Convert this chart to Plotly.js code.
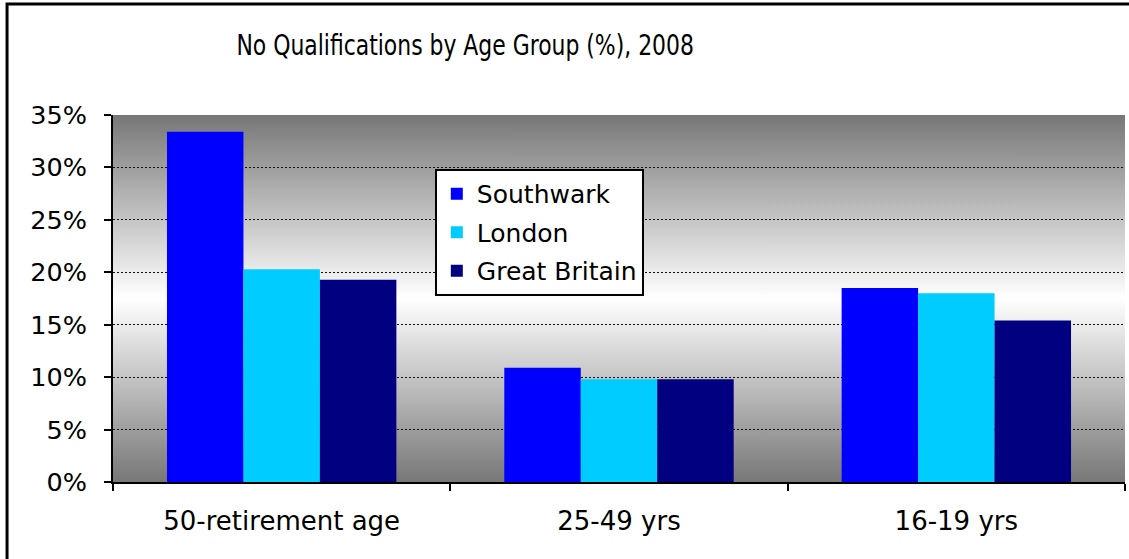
<!DOCTYPE html>
<html>
<head>
<meta charset="utf-8">
<script src="https://cdn.plot.ly/plotly-3.0.1.min.js"></script>
<style>
html,body{margin:0;padding:0;background:#fff;}
#chart{width:1129px;height:559px;}
#chart .gtitle{transform-box:fill-box;transform-origin:center;transform:scaleX(0.855);}
</style>
</head>
<body>
<div id="chart"></div>
<script>
const categories = ["50-retirement age", "25-49 yrs", "16-19 yrs"];
const seriesNames = ["Southwark", "London", "Great Britain"];
const southwark = [33.4, 10.9, 18.5];
const london = [20.3, 9.8, 18.0];
const greatBritain = [19.3, 9.8, 15.4];
const seriesColors = ["#0000FF", "#00CCFF", "#000080"];
const yTicks = [0, 5, 10, 15, 20, 25, 30, 35];

const seriesValues = [southwark, london, greatBritain];
const traces = seriesValues.map((vals, i) => ({
  type: "bar",
  name: seriesNames[i],
  x: categories,
  y: vals,
  marker: {color: seriesColors[i], line: {width: 0}},
  legendgroup: "g" + i,
  hoverinfo: "x+y+name"
}));

const gradSvg = '<svg xmlns="http://www.w3.org/2000/svg" width="10" height="100" preserveAspectRatio="none">' +
  '<defs><linearGradient id="g" x1="0" y1="0" x2="0" y2="1">' +
  '<stop offset="0" stop-color="#777777"/><stop offset="0.5" stop-color="#ffffff"/><stop offset="1" stop-color="#777777"/>' +
  '</linearGradient></defs><rect width="10" height="100" fill="url(#g)"/></svg>';
const gradUrl = "data:image/svg+xml;base64," + btoa(gradSvg);

const font = "DejaVu Sans, Verdana, sans-serif";

const layout = {
  width: 1129,
  height: 559,
  margin: {l: 113, r: 4, t: 115, b: 77, pad: 0},
  paper_bgcolor: "#ffffff",
  plot_bgcolor: "rgba(0,0,0,0)",
  font: {family: font, size: 25, color: "#000"},
  title: {
    text: "No Qualifications by Age Group (%), 2008",
    font: {family: "DejaVu Sans Condensed, DejaVu Sans, sans-serif", size: 28.5, color: "#000"},
    xref: "paper", x: 0.348, xanchor: "center",
    yref: "container", y: 0.919, yanchor: "middle"
  },
  barmode: "group",
  bargap: 0.32,
  bargroupgap: 0,
  showlegend: true,
  legend: {
    x: 0.318, y: 0.853, xanchor: "left", yanchor: "top",
    bgcolor: "#ffffff", bordercolor: "#000", borderwidth: 2,
    font: {family: font, size: 25, color: "#000"},
    traceorder: "grouped", tracegroupgap: 3
  },
  xaxis: {
    type: "category",
    showgrid: false,
    showline: true, linecolor: "#000", linewidth: 2,
    ticks: "outside", tickson: "boundaries", ticklen: 7, tickwidth: 2, tickcolor: "#000",
    tickfont: {family: font, size: 26, color: "#000"},
    ticklabelstandoff: 15,
    fixedrange: true
  },
  yaxis: {
    range: [0, 35],
    tickvals: yTicks,
    ticktext: yTicks.map(v => v + "%"),
    showgrid: true, gridcolor: "#111", griddash: "2px,2px", gridwidth: 1,
    zeroline: false,
    showline: true, linecolor: "#000", linewidth: 2,
    ticks: "outside", ticklen: 7, tickwidth: 2, tickcolor: "#000",
    tickfont: {family: font, size: 25.5, color: "#000"},
    ticklabelstandoff: 12,
    fixedrange: true
  },
  images: [{
    source: gradUrl, xref: "paper", yref: "paper",
    x: 0, y: 1, sizex: 1, sizey: 1, sizing: "stretch",
    xanchor: "left", yanchor: "top", layer: "below"
  }],
  shapes: [{
    type: "rect", xref: "paper", yref: "paper",
    x0: -0.1047, x1: 1.02, y0: -0.25, y1: 1.3025,
    line: {color: "#000", width: 3}, fillcolor: "rgba(0,0,0,0)", layer: "above"
  }]
};

Plotly.newPlot("chart", traces, layout, {displayModeBar: false, staticPlot: true});
</script>
</body>
</html>
